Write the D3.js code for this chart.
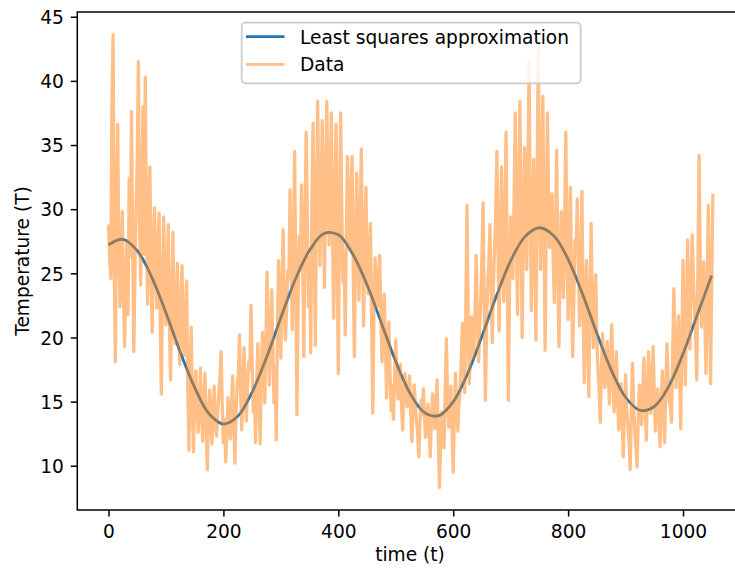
<!DOCTYPE html>
<html>
<head>
<meta charset="utf-8">
<script src="https://cdn.jsdelivr.net/npm/d3@7"></script>
<style>
  body { margin: 0; background: #fff; }
  text { font-family: "DejaVu Sans", sans-serif; fill: #000; }
</style>
</head>
<body>
<script>
const w = 735;
const h = 569;

// measured temperatures, one every 2 time steps (t = 0, 2, 4, ...)
const temps = [
  28.8,26.1,24.6,38.2,43.6,25.3,18.1,30.9,36.6,27.0,22.4,25.1,29.8,23.6,19.3,24.0,27.5,21.8,32.4,26.3,
  37.6,27.4,18.9,24.7,30.2,33.6,41.5,28.9,24.1,31.2,38.0,26.5,40.3,29.8,22.6,27.3,33.3,25.9,20.4,26.8,
  30.1,25.6,22.3,26.9,29.7,21.4,15.6,23.8,29.4,24.7,21.0,23.5,28.8,20.9,16.7,22.6,28.2,23.0,19.5,21.3,
  25.8,20.7,17.9,22.2,25.6,19.4,18.6,21.8,24.4,16.3,11.2,17.5,20.8,14.6,11.1,15.9,17.4,15.1,12.6,14.3,
  17.6,14.2,11.9,14.8,17.2,13.0,9.7,13.6,15.9,14.4,11.7,13.9,16.2,13.5,12.3,14.1,15.6,16.8,18.9,14.7,
  11.8,13.6,10.3,12.9,15.3,13.8,12.1,14.5,17.0,13.2,10.2,14.0,16.4,17.1,20.2,15.5,12.8,16.0,19.2,15.9,
  13.5,16.2,18.1,17.4,22.5,18.0,14.2,15.7,11.8,16.6,19.5,15.3,11.7,17.2,20.4,18.3,14.9,19.6,25.1,20.1,
  16.3,19.8,23.7,19.5,14.9,17.7,12.0,20.3,26.0,21.6,18.4,23.9,28.4,22.7,19.8,22.1,25.2,24.6,31.5,25.4,
  20.6,27.3,34.5,24.8,14.0,22.6,27.9,25.3,31.9,26.1,18.5,28.7,36.0,29.4,22.4,26.2,18.8,30.5,36.7,28.3,
  19.4,30.6,38.4,31.1,25.6,30.8,36.9,29.2,23.9,32.7,38.4,31.6,27.2,33.0,37.5,27.8,21.5,29.9,36.6,26.4,
  17.2,29.5,37.5,30.1,24.3,26.7,20.2,28.4,34.1,29.6,26.8,31.2,34.1,25.0,18.5,27.3,32.8,27.5,22.9,28.8,
  34.7,26.9,20.9,27.0,31.7,26.2,23.4,25.8,28.9,21.3,14.1,21.9,26.2,24.0,22.4,24.8,26.4,21.7,18.1,21.2,
  23.4,19.6,15.3,18.6,21.2,17.4,14.3,16.2,13.6,17.0,19.8,16.8,15.2,16.3,17.9,14.7,12.8,15.4,17.2,15.8,
  14.6,15.9,17.0,14.2,11.9,14.5,16.3,14.9,13.4,12.6,10.7,13.3,15.1,14.0,16.0,13.8,12.2,13.1,14.8,12.9,
  10.7,13.5,15.6,14.1,12.9,15.0,16.7,12.4,8.3,11.6,14.2,12.8,11.4,15.7,19.9,15.9,13.0,14.3,16.2,12.6,
  9.5,13.9,17.2,14.6,12.7,14.8,15.8,18.3,21.1,17.9,15.7,22.4,30.3,21.5,16.4,19.2,21.6,18.4,19.0,22.3,
  26.4,21.8,18.1,20.9,23.0,26.4,30.5,22.3,15.1,20.7,24.2,25.9,28.8,23.5,19.6,24.1,27.1,29.6,34.5,26.7,
  20.5,27.2,33.3,27.6,22.8,29.3,36.0,25.5,15.1,23.8,29.4,26.3,24.6,31.0,37.5,28.1,21.8,30.4,38.4,28.7,
  20.0,28.2,34.8,29.1,25.3,33.6,41.5,30.2,22.1,28.5,33.9,27.0,19.8,31.7,43.2,32.9,25.3,31.4,38.8,28.0,
  19.0,29.1,37.5,30.6,27.0,29.3,31.2,26.1,22.7,28.0,34.6,25.8,19.3,24.9,29.8,25.6,23.1,29.4,36.0,27.2,
  21.4,26.8,31.7,24.1,18.5,23.0,27.6,26.9,30.8,25.1,20.9,24.7,31.4,22.8,16.5,21.3,26.0,20.6,15.4,22.5,
  28.9,23.1,19.2,21.6,24.9,20.0,17.4,15.9,13.4,17.8,20.3,17.5,16.1,18.2,19.7,16.9,14.8,18.4,21.0,17.3,
  14.2,16.5,18.9,15.2,12.8,14.9,16.4,13.7,10.7,14.3,17.1,14.6,13.1,11.8,9.7,14.2,18.0,15.1,12.6,11.5,
  9.9,13.6,16.3,14.4,13.2,15.8,18.4,15.0,12.0,15.6,18.9,16.2,14.1,16.8,19.3,15.7,12.7,14.8,16.0,13.9,
  11.5,14.9,17.4,14.5,11.8,16.1,19.5,17.0,15.0,14.6,13.4,18.7,23.8,19.4,16.1,18.9,21.7,17.6,12.9,19.8,
  26.0,20.5,16.3,22.1,27.6,23.3,19.1,23.8,28.0,24.6,22.4,19.9,16.7,25.8,34.2,26.1,20.8,24.0,25.9,21.4,
  17.2,23.9,30.3,22.8,16.4,24.5,31.2
];
const dataStep = 2;

// least squares curve read every 25 time steps
const fitVals = [
  27.22,27.65,26.77,24.73,21.92,18.85,16.09,14.05,13.25,13.85,
  15.74,18.43,21.54,24.50,26.79,28.10,28.00,26.51,24.11,21.13,
  18.12,15.64,14.14,13.90,14.98,17.17,20.09,23.21,25.97,27.86,
  28.55,27.92,26.09,23.39,20.33,17.47,15.34,14.32,14.62,16.18,
  18.72,21.79,24.83
];
const fitStep = 25;

const xTicks = [0, 200, 400, 600, 800, 1000];
const yTicks = [10, 15, 20, 25, 30, 35, 40, 45];
const legendLabels = ["Least squares approximation", "Data"];

const fontSize = 18.6;

const svg = d3.select("body")
              .append("svg")
              .attr("width", w)
              .attr("height", h);

const x = d3.scaleLinear().domain([-54.3, 1104.4]).range([77.3, 743]);
const y = d3.scaleLinear().domain([6.55, 45.37]).range([510, 12]);

// fit first, data on top with alpha (like matplotlib draw order)
const fitLine = d3.line()
                  .x((d, i) => x(i * fitStep))
                  .y(d => y(d))
                  .curve(d3.curveCatmullRom);
svg.append("path")
   .datum(fitVals)
   .attr("d", fitLine)
   .attr("fill", "none")
   .attr("stroke", "#1f77b4")
   .attr("stroke-width", 2.8);

const dataLine = d3.line()
                   .x((d, i) => x(i * dataStep))
                   .y(d => y(d));
svg.append("path")
   .datum(temps)
   .attr("d", dataLine)
   .attr("fill", "none")
   .attr("stroke", "#ff7f0e")
   .attr("stroke-opacity", 0.5)
   .attr("stroke-width", 3.3)
   .attr("stroke-linejoin", "round");

// axes
const xAxis = svg.append("g")
                 .attr("transform", "translate(0,510)")
                 .call(d3.axisBottom(x).tickValues(xTicks).tickSize(6.5).tickFormat(d3.format("d")));
xAxis.select(".domain").remove();
xAxis.selectAll("line").attr("stroke-width", 1.5);
xAxis.selectAll("text")
     .attr("y", 28)
     .attr("dy", 0)
     .style("font-size", fontSize + "px")
     .style("font-family", "DejaVu Sans");

const yAxis = svg.append("g")
                 .attr("transform", "translate(77.3,0)")
                 .call(d3.axisLeft(y).tickValues(yTicks).tickSize(6.5));
yAxis.select(".domain").remove();
yAxis.selectAll("line").attr("stroke-width", 1.5);
yAxis.selectAll("text")
     .attr("x", -13.5)
     .attr("y", 6.7)
     .attr("dy", 0)
     .style("font-size", fontSize + "px")
     .style("font-family", "DejaVu Sans");

// spines
svg.append("rect")
   .attr("x", 77.3)
   .attr("y", 12)
   .attr("width", 743 - 77.3)
   .attr("height", 498)
   .attr("fill", "none")
   .attr("stroke", "#000")
   .attr("stroke-width", 1.5);

// axis labels
svg.append("text")
   .text("time (t)")
   .attr("x", 410)
   .attr("y", 561)
   .attr("text-anchor", "middle")
   .style("font-size", fontSize + "px");

svg.append("text")
   .text("Temperature (T)")
   .attr("transform", "translate(29,261) rotate(-90)")
   .attr("text-anchor", "middle")
   .style("font-size", fontSize + "px");

// legend
const legend = svg.append("g").attr("id", "legend");
legend.append("rect")
      .attr("x", 241.7)
      .attr("y", 22.7)
      .attr("width", 339)
      .attr("height", 60.6)
      .attr("rx", 3.7)
      .attr("fill", "#fff")
      .attr("fill-opacity", 0.8)
      .attr("stroke", "#cccccc")
      .attr("stroke-width", 1.8);

const legendColors = ["#1f77b4", "#ff7f0e"];
const legendOpacity = [1, 0.5];
legendLabels.forEach((label, i) => {
  const ly = 36.7 + i * 27.6;
  legend.append("line")
        .attr("x1", 246)
        .attr("x2", 284.5)
        .attr("y1", ly)
        .attr("y2", ly)
        .attr("stroke", legendColors[i])
        .attr("stroke-opacity", legendOpacity[i])
        .attr("stroke-width", 2.8);
  legend.append("text")
        .text(label)
        .attr("x", 300)
        .attr("y", ly + 7)
        .style("font-size", fontSize + "px");
});
</script>
</body>
</html>
